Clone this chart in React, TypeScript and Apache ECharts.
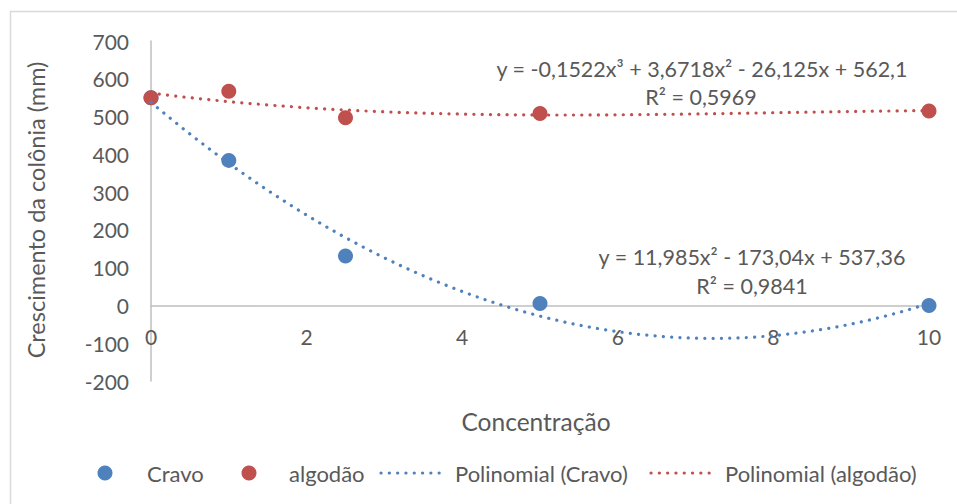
import React, { useEffect, useRef } from "react";
import * as echarts from "echarts";

const concentrations = [0, 1, 2.5, 5, 10];
const cravoValues = [550, 384, 131, 5, 0];
const algodaoValues = [550, 567, 497, 508, 515];
// trendline coefficients (constant, x, x^2, x^3) as displayed on the chart
const cravoPoly = [537.36, -173.04, 11.985];
const algodaoPoly = [562.1, -26.125, 3.6718, -0.1522];
const xTicks = { min: 0, max: 10, interval: 2 };
const yTicks = { min: -200, max: 700, interval: 100 };
const cravoEquation = ["y = 11,985x² - 173,04x + 537,36", "R² = 0,9841"];
const algodaoEquation = ["y = -0,1522x³ + 3,6718x² - 26,125x + 562,1", "R² = 0,5969"];
const seriesNames = ["Cravo", "algodão", "Polinomial (Cravo)", "Polinomial (algodão)"];

const BLUE = "#4F81BD";
const RED = "#C0504D";
const TEXT = "#595959";
const AXIS = "#BFBFBF";
const FONT = "Lato, 'Open Sans', sans-serif";
const DOT: number[] = [0.1, 8.2];

function polyCurve(coefs: number[]): number[][] {
  const pts: number[][] = [];
  for (let i = 0; i <= 200; i++) {
    const x = (xTicks.max * i) / 200;
    let y = 0;
    for (let k = coefs.length - 1; k >= 0; k--) y = y * x + coefs[k];
    pts.push([x, y]);
  }
  return pts;
}

export default function App() {
  const ref = useRef<HTMLDivElement>(null);
  useEffect(() => {
    if (!ref.current) return;
    const chart = echarts.init(ref.current, null, { renderer: "svg" });
    const lineStyle = (color: string) => ({
      color,
      width: 3.2,
      type: DOT,
      cap: "round" as const,
    });
    const legendY = 473;
    const gridTop = 41;
    const gridBottomPx = 381;
    const zeroPx = gridTop + ((gridBottomPx - gridTop) * (yTicks.max - 0)) / (yTicks.max - yTicks.min);
    const txt = (x: number, y: number, text: string, size: number, align = "center", extra: any = {}) => ({
      type: "text",
      x,
      y,
      ...extra,
      style: { text, fill: TEXT, font: `${size}px ${FONT}`, align, verticalAlign: "middle" },
    });
    chart.setOption({
      animation: false,
      backgroundColor: "#ffffff",
      textStyle: { fontFamily: FONT },
      grid: { left: 151, right: 28, top: gridTop, bottom: 504 - gridBottomPx, containLabel: false },
      xAxis: [
        {
          type: "value",
          min: xTicks.min,
          max: xTicks.max,
          interval: xTicks.interval,
          axisLine: { show: true, onZero: true, lineStyle: { color: AXIS, width: 1.5 } },
          axisTick: { show: false },
          splitLine: { show: false },
          axisLabel: { show: false },
        },
        {
          type: "value",
          position: "bottom",
          offset: -(gridBottomPx - zeroPx),
          min: xTicks.min,
          max: xTicks.max,
          interval: xTicks.interval,
          axisLine: { show: false, onZero: false },
          axisTick: { show: false },
          splitLine: { show: false },
          axisLabel: { color: TEXT, fontSize: 21, fontFamily: FONT, margin: 21, showMinLabel: true, showMaxLabel: true },
        },
      ],
      yAxis: {
        type: "value",
        min: yTicks.min,
        max: yTicks.max,
        interval: yTicks.interval,
        axisLine: { show: true, onZero: false, lineStyle: { color: AXIS, width: 1.5 } },
        axisTick: { show: false },
        splitLine: { show: false },
        axisLabel: { color: TEXT, fontSize: 21, fontFamily: FONT, margin: 22 },
      },
      series: [
        {
          name: seriesNames[0],
          type: "scatter",
          symbol: "circle",
          symbolSize: 15,
          itemStyle: { color: BLUE, opacity: 1 },
          data: concentrations.map((x, i) => [x, cravoValues[i]]),
          z: 2,
        },
        {
          name: seriesNames[1],
          type: "scatter",
          symbol: "circle",
          symbolSize: 15,
          itemStyle: { color: RED, opacity: 1 },
          data: concentrations.map((x, i) => [x, algodaoValues[i]]),
          z: 2,
        },
        {
          name: seriesNames[2],
          type: "line",
          showSymbol: false,
          symbol: "none",
          lineStyle: lineStyle(BLUE),
          data: polyCurve(cravoPoly),
          z: 3,
        },
        {
          name: seriesNames[3],
          type: "line",
          showSymbol: false,
          symbol: "none",
          lineStyle: lineStyle(RED),
          data: polyCurve(algodaoPoly),
          z: 3,
        },
      ],
      graphic: [
        {
          type: "rect",
          shape: { x: 10.5, y: 11.5, width: 1000, height: 600 },
          style: { fill: "none", stroke: "#D9D9D9", lineWidth: 1.5 },
          silent: true,
          z: -10,
        },
        txt(36, 210, "Crescimento da colônia (mm)", 23.5, "center", { rotation: Math.PI / 2 }),
        txt(536, 421, "Concentração", 24.5),
        txt(702, 69, algodaoEquation[0], 21.5),
        txt(701, 97, algodaoEquation[1], 21.5),
        txt(752, 257, cravoEquation[0], 21.5),
        txt(752, 286, cravoEquation[1], 21.5),
        // legend
        { type: "circle", shape: { cx: 105, cy: legendY, r: 7.5 }, style: { fill: BLUE } },
        txt(147, legendY, seriesNames[0], 22, "left"),
        { type: "circle", shape: { cx: 249, cy: legendY, r: 7.5 }, style: { fill: RED } },
        txt(289, legendY, seriesNames[1], 22, "left"),
        {
          type: "polyline",
          shape: { points: [[381, legendY], [444, legendY]] },
          style: { stroke: BLUE, lineWidth: 3.2, lineDash: DOT, lineCap: "round", fill: "none" },
        },
        txt(455, legendY, seriesNames[2], 22, "left"),
        {
          type: "polyline",
          shape: { points: [[651, legendY], [714, legendY]] },
          style: { stroke: RED, lineWidth: 3.2, lineDash: DOT, lineCap: "round", fill: "none" },
        },
        txt(725, legendY, seriesNames[3], 22, "left"),
      ],
    });
    return () => chart.dispose();
  }, []);
  return (
    <div
      ref={ref}
      style={{ position: "fixed", left: 0, top: 0, width: 957, height: 504, background: "#fff" }}
    />
  );
}
